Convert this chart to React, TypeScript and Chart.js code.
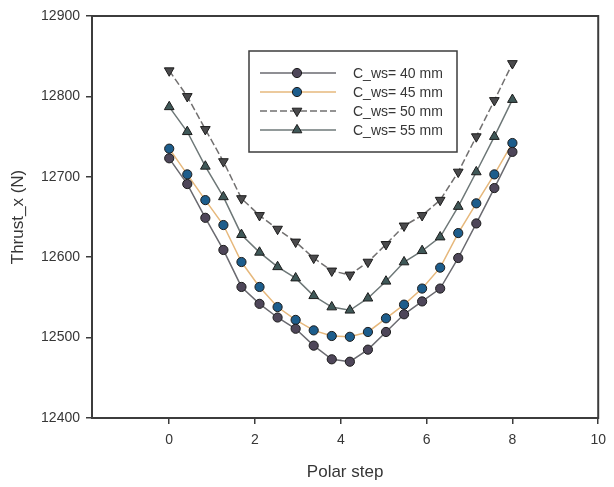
import React, { useEffect, useRef } from "react";
import { Chart, registerables } from "chart.js";
import { drawPoint } from "chart.js/helpers";

Chart.register(...registerables);

// ---------- data ----------
const POLAR_STEP = [
  0, 0.421, 0.842, 1.263, 1.684, 2.105, 2.526, 2.947, 3.368, 3.789,
  4.211, 4.632, 5.053, 5.474, 5.895, 6.316, 6.737, 7.158, 7.579, 8,
];
const CWS_40 = [
  12723, 12691, 12649, 12609, 12563, 12542, 12525, 12511, 12490, 12473,
  12470, 12485, 12507, 12529, 12545, 12561, 12599, 12642, 12686, 12731,
];
const CWS_45 = [
  12735, 12703, 12671, 12640, 12594, 12563, 12538, 12522, 12509, 12502,
  12501, 12507, 12524, 12541, 12561, 12587, 12630, 12667, 12703, 12742,
];
const CWS_50 = [
  12832, 12800, 12759, 12719, 12673, 12652, 12635, 12619, 12599, 12583,
  12578, 12594, 12616, 12639, 12652, 12671, 12706, 12750, 12795, 12841,
];
const CWS_55 = [
  12787, 12756, 12713, 12675, 12628, 12606, 12588, 12574, 12552, 12538,
  12534, 12549, 12570, 12594, 12608, 12625, 12663, 12706, 12750, 12796,
];
const SERIES_LABELS = ["C_ws= 40 mm", "C_ws= 45 mm", "C_ws= 50 mm", "C_ws= 55 mm"];
const X_TICKS = [0, 2, 4, 6, 8, 10];
const Y_TICKS = [12400, 12500, 12600, 12700, 12800, 12900];
const X_TITLE = "Polar step";
const Y_TITLE = "Thrust_x (N)";

const FONT = 'Arial, "Liberation Sans", "Helvetica", sans-serif';
const TEXT = "#363636";
const FRAME = "#3c3c3c";

const toPoints = (ys: number[]) => ys.map((y, i) => ({ x: POLAR_STEP[i], y }));

const framePlugin = {
  id: "frame",
  afterDatasetsDraw(chart: any) {
    const { ctx, chartArea } = chart;
    ctx.save();
    ctx.strokeStyle = FRAME;
    ctx.lineWidth = 2;
    ctx.strokeRect(chartArea.left, chartArea.top, chartArea.right - chartArea.left, chartArea.bottom - chartArea.top);
    ctx.restore();
  },
};

const legendPlugin = {
  id: "boxLegend",
  afterDraw(chart: any) {
    const { ctx } = chart;
    const bx = 249, by = 51, bw = 208, bh = 101;
    ctx.save();
    ctx.fillStyle = "#ffffff";
    ctx.fillRect(bx, by, bw, bh);
    ctx.strokeStyle = FRAME;
    ctx.lineWidth = 1.5;
    ctx.strokeRect(bx, by, bw, bh);
    chart.data.datasets.forEach((ds: any, i: number) => {
      const y = 73 + i * 19;
      ctx.save();
      ctx.strokeStyle = ds.borderColor;
      ctx.lineWidth = ds.borderWidth;
      ctx.setLineDash(ds.borderDash || []);
      ctx.beginPath();
      ctx.moveTo(260, y);
      ctx.lineTo(336, y);
      ctx.stroke();
      ctx.restore();
      ctx.save();
      ctx.fillStyle = ds.pointBackgroundColor;
      ctx.strokeStyle = ds.pointBorderColor;
      ctx.lineWidth = ds.pointBorderWidth;
      drawPoint(ctx, { pointStyle: ds.pointStyle, rotation: ds.pointRotation || 0, radius: ds.pointRadius, borderWidth: ds.pointBorderWidth }, 297, y);
      ctx.restore();
      ctx.fillStyle = TEXT;
      ctx.font = `14px ${FONT}`;
      ctx.textBaseline = "middle";
      ctx.textAlign = "left";
      ctx.fillText(ds.label, 353, y + 1);
    });
    ctx.restore();
  },
};

export default function App() {
  const ref = useRef<HTMLCanvasElement | null>(null);

  useEffect(() => {
    if (!ref.current) return;
    const common = { showLine: true, borderWidth: 1.5, pointBorderColor: "#1c1c1c", pointBorderWidth: 1, tension: 0 };
    const chart = new Chart(ref.current, {
      type: "scatter",
      data: {
        datasets: [
          {
            ...common,
            label: SERIES_LABELS[0],
            data: toPoints(CWS_40),
            borderColor: "#6a6a70",
            pointBackgroundColor: "#4e4659",
            pointStyle: "circle",
            pointRadius: 4.6,
          },
          {
            ...common,
            label: SERIES_LABELS[1],
            data: toPoints(CWS_45),
            borderColor: "#e6b87c",
            pointBackgroundColor: "#1d5d8c",
            pointStyle: "circle",
            pointRadius: 4.6,
          },
          {
            ...common,
            label: SERIES_LABELS[2],
            data: toPoints(CWS_50),
            borderColor: "#727070",
            borderDash: [7, 3],
            pointBackgroundColor: "#4a4a4c",
            pointStyle: "triangle",
            pointRotation: 180,
            pointRadius: 5.6,
          },
          {
            ...common,
            label: SERIES_LABELS[3],
            data: toPoints(CWS_55),
            borderColor: "#6e7878",
            pointBackgroundColor: "#3f5858",
            pointStyle: "triangle",
            pointRadius: 5.6,
          },
        ] as any,
      },
      options: {
        animation: false,
        responsive: false,
        devicePixelRatio: 1,
        layout: { padding: { top: 16, right: 9, left: 0, bottom: 0 } },
        plugins: { legend: { display: false }, tooltip: { enabled: false } },
        scales: {
          x: {
            type: "linear",
            min: -1.8,
            max: 10,
            afterBuildTicks: (s: any) => {
              s.ticks = X_TICKS.map((v) => ({ value: v }));
            },
            afterFit: (s: any) => {
              s.height = 69;
            },
            border: { display: false },
            grid: { drawOnChartArea: false, drawTicks: true, tickLength: 6, color: FRAME, lineWidth: 1.5 },
            ticks: { color: TEXT, font: { size: 14, family: FONT }, padding: 8, maxRotation: 0, autoSkip: false },
            title: { display: true, text: X_TITLE, color: TEXT, font: { size: 17, family: FONT }, padding: { top: 0, bottom: 4 } },
          },
          y: {
            type: "linear",
            min: 12400,
            max: 12900,
            afterBuildTicks: (s: any) => {
              s.ticks = Y_TICKS.map((v) => ({ value: v }));
            },
            afterFit: (s: any) => {
              s.width = 92;
            },
            border: { display: false },
            grid: { drawOnChartArea: false, drawTicks: true, tickLength: 6, color: FRAME, lineWidth: 1.5 },
            ticks: { color: TEXT, font: { size: 14, family: FONT }, padding: 6, autoSkip: false, callback: (v: any) => String(v) },
            title: { display: true, text: Y_TITLE, color: TEXT, font: { size: 17, family: FONT }, padding: { top: 8, bottom: 0 } },
          },
        },
      } as any,
      plugins: [framePlugin, legendPlugin],
    });
    return () => chart.destroy();
  }, []);

  return (
    <div style={{ position: "absolute", left: 0, top: 0, width: 614, height: 487, background: "#ffffff" }}>
      <canvas ref={ref} width={614} height={487} style={{ display: "block", width: 614, height: 487 }} />
    </div>
  );
}
